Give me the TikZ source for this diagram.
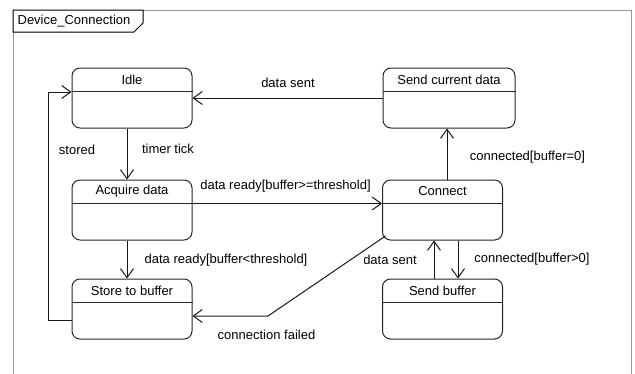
\documentclass[tikz,border=0pt]{standalone}
\usepackage{fontspec}
\setmainfont{Liberation Sans}
\usetikzlibrary{arrows.meta}
\begin{document}
\begin{tikzpicture}[x=1pt,y=-1pt,
  font=\fontsize{13}{15}\selectfont,
  stbox/.style={draw=black!85, line width=1pt, rounded corners=8pt, minimum width=120pt, minimum height=60pt, inner sep=0pt},
  ttl/.style={inner sep=0pt, anchor=center},
  lbl/.style={inner sep=0pt, anchor=center},
  conn/.style={draw=black!90, line width=1pt, -{Straight Barb[length=9pt,width=13pt,line width=1pt]}}]
\useasboundingbox (0,0) rectangle (635,373);
% frame
\draw[draw=black!40, line width=1pt] (13,380) -- (13,10) -- (631,10) -- (631,380);
\draw[draw=black, line width=1pt, fill=white] (13,10) -- (143,10) -- (143,23) -- (134,32) -- (13,32) -- cycle;
\node[lbl] (title) at (74,21.5) {Device\_Connection};
% states
\node[stbox] (idle) at (132,98) {};
\node[stbox, minimum width=132pt] (scd) at (449,98) {};
\node[stbox] (acq) at (132,210) {};
\node[stbox] (conn) at (442.5,210) {};
\node[stbox] (store) at (132,309) {};
\node[stbox] (sbuf) at (442.5,309) {};
\foreach \n/\t in {idle/Idle, scd/Send current data, acq/Acquire data, conn/Connect, store/Store to buffer, sbuf/Send buffer}{
  \draw[draw=black!85, line width=1pt] ([yshift=-24pt]\n.north west) -- ([yshift=-24pt]\n.north east);
  \node[ttl] (\n-t) at ([yshift=-12pt]\n.north) {\t};
}
% transitions
\draw[conn] ([xshift=-5pt]idle.south) -- ([xshift=-5pt]acq.north);
\draw[conn] ([xshift=-5pt]acq.south) -- ([xshift=-5pt]store.north);
\draw[conn] (scd.west) -- (idle.east);
\draw[conn] ([yshift=-24pt]acq.north east) -- ([yshift=-24pt]conn.north west);
\draw[conn] ([xshift=4.5pt]conn.north) -- ([xshift=-2pt]scd.south);
\draw[conn] ([xshift=15.5pt]conn.south) -- ([xshift=15.5pt]sbuf.north);
\draw[conn] ([xshift=-8.5pt]sbuf.north) -- ([xshift=-8.5pt]conn.south);
\coordinate (bend) at (268,316);
\coordinate (cfrom) at (385.5,236);
\draw[conn] (cfrom) -- (bend) -- (store.east |- bend);
\coordinate (st1) at (48,320);
\draw[conn] (store.west |- st1) -- (st1) -- (48,92) -- (idle.west |- 0,92);
% labels
\node[lbl] (l1) at (288,83) {data sent};
\node[lbl] (l2) at (77,150) {stored};
\node[lbl] (l3) at (168,149) {timer tick};
\node[lbl] (l4) at (285.5,186) {data ready[buffer>=threshold]};
\node[lbl] (l5) at (226,260) {data ready[buffer<threshold]};
\node[lbl] (l6) at (266.5,335) {connection failed};
\node[lbl] (l7) at (390,260) {data sent};
\node[lbl] (l8) at (532,259) {connected[buffer>0]};
\node[lbl] (l9) at (527.5,157) {connected[buffer=0]};
\end{tikzpicture}
\end{document}
